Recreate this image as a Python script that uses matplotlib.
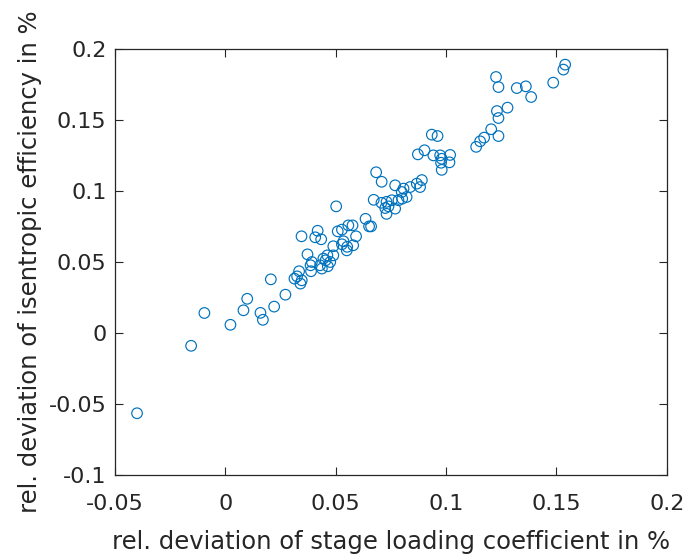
import matplotlib
matplotlib.use("Agg")
import matplotlib.pyplot as plt

x_vals = [-0.0399, -0.0154, -0.0094, 0.0024, 0.0083, 0.0100, 0.0160, 0.0171, 0.0207, 0.0222,
          0.0273, 0.0314, 0.0335, 0.0341, 0.0326, 0.0347, 0.0373, 0.0387, 0.0389, 0.0430,
          0.0445, 0.0465, 0.0463, 0.0490, 0.0476, 0.0438, 0.0551, 0.0346, 0.0408, 0.0419,
          0.0435, 0.0503, 0.0510, 0.0529, 0.0558, 0.0577, 0.0593, 0.0536, 0.0553, 0.0580,
          0.0490, 0.0529, 0.0636, 0.0652, 0.0661, 0.0684, 0.0709, 0.0673, 0.0708, 0.0731,
          0.0731, 0.0740, 0.0755, 0.0770, 0.0770, 0.0800, 0.0808, 0.0822, 0.0785, 0.0802,
          0.0838, 0.0868, 0.0891, 0.0883, 0.0873, 0.0903, 0.0936, 0.0962, 0.0943, 0.0974,
          0.0981, 0.1019, 0.1016, 0.0978, 0.0981, 0.1137, 0.1155, 0.1173, 0.1205, 0.1238,
          0.1231, 0.1238, 0.1279, 0.1227, 0.1238, 0.1321, 0.1362, 0.1386, 0.1486, 0.1532,
          0.1540, 0.0725, 0.0455, 0.0393]
y_vals = [-0.0565, -0.0090, 0.0141, 0.0058, 0.0160, 0.0241, 0.0142, 0.0093, 0.0378, 0.0186,
          0.0270, 0.0383, 0.0435, 0.0348, 0.0399, 0.0371, 0.0554, 0.0477, 0.0435, 0.0477,
          0.0524, 0.0470, 0.0547, 0.0547, 0.0500, 0.0454, 0.0582, 0.0681, 0.0674, 0.0720,
          0.0660, 0.0892, 0.0716, 0.0728, 0.0758, 0.0758, 0.0681, 0.0646, 0.0607, 0.0618,
          0.0611, 0.0625, 0.0804, 0.0751, 0.0751, 0.1132, 0.1065, 0.0938, 0.0917, 0.0924,
          0.0839, 0.0892, 0.0935, 0.0876, 0.1040, 0.0993, 0.1017, 0.0958, 0.0935, 0.0946,
          0.1028, 0.1052, 0.1077, 0.1028, 0.1258, 0.1287, 0.1397, 0.1387, 0.1251, 0.1251,
          0.1227, 0.1254, 0.1202, 0.1199, 0.1149, 0.1311, 0.1350, 0.1376, 0.1435, 0.1387,
          0.1563, 0.1514, 0.1587, 0.1803, 0.1732, 0.1725, 0.1737, 0.1662, 0.1763, 0.1855,
          0.1890, 0.0880, 0.0512, 0.0500]

x_ticks = [-0.05, 0, 0.05, 0.1, 0.15, 0.2]
x_ticklabels = ["-0.05", "0", "0.05", "0.1", "0.15", "0.2"]
y_ticks = [-0.1, -0.05, 0, 0.05, 0.1, 0.15, 0.2]
y_ticklabels = ["-0.1", "-0.05", "0", "0.05", "0.1", "0.15", "0.2"]
x_label = "rel. deviation of stage loading coefficient in %"
y_label = "rel. deviation of isentropic efficiency in %"

plt.rcParams['font.family'] = ['DejaVu Sans']
fig = plt.figure(figsize=(6.85, 5.55), dpi=100)
ax = fig.add_axes([0.1675, 0.1441, 0.8058, 0.7676])

ax.scatter(x_vals, y_vals, s=58, facecolors='none', edgecolors='#0072BD', linewidths=0.85)

ax.set_xlim(-0.05, 0.2)
ax.set_ylim(-0.1, 0.2)
ax.set_xticks(x_ticks)
ax.set_xticklabels(x_ticklabels)
ax.set_yticks(y_ticks)
ax.set_yticklabels(y_ticklabels)
ax.tick_params(direction='in', length=6, width=0.8, top=True, right=True,
               colors='#262626', labelsize=16)
ax.tick_params(axis='x', pad=14)
ax.tick_params(axis='y', pad=6)
for sp in ax.spines.values():
    sp.set_color('#262626')
    sp.set_linewidth(0.9)
ax.set_xlabel(x_label, fontsize=17.5, color='#262626', labelpad=11)
ax.set_ylabel(y_label, fontsize=17.5, color='#262626', labelpad=5)

fig.savefig("out.png", dpi=100)
